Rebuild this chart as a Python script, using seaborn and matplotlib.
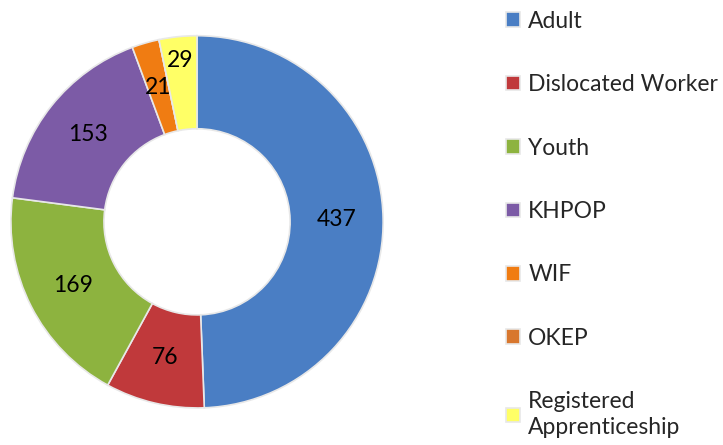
import matplotlib
matplotlib.use('Agg')
import matplotlib.pyplot as plt
import seaborn as sns

programs = ['Adult', 'Dislocated Worker', 'Youth', 'KHPOP', 'WIF', 'OKEP',
            'Registered\nApprenticeship']
counts = [437, 76, 169, 153, 21, 0, 29]
colors = ['#4A7EC4', '#C0393B', '#8DB33F', '#7C5BA6', '#F07C12', '#D8772E', '#FFFF66']

sns.set_theme(style='white')
plt.rcParams['font.family'] = ['Lato', 'DejaVu Sans']

total = sum(counts)

fig = plt.figure(figsize=(7.23, 4.45), dpi=100)
ax = fig.add_axes([0.0125, 0.079, 0.52, 0.845])

wedges, _, autotexts = ax.pie(
    counts, colors=sns.color_palette(colors), startangle=90, counterclock=False,
    autopct=lambda p: f'{round(p * total / 100):.0f}' if p > 0 else '',
    pctdistance=0.75, radius=1,
    wedgeprops=dict(width=0.5, edgecolor='#E8E8E8', linewidth=1.2),
    textprops=dict(fontsize=16.5, color='black'))
ax.set_aspect('equal')
ax.set_xlim(-1.01, 1.01)
ax.set_ylim(-1.01, 1.01)

# nudge the small last label outward so it does not collide with its neighbour
x, y = autotexts[-1].get_position()
autotexts[-1].set_position((x * 1.16, y * 1.16))

leg = fig.legend(wedges, programs, loc='upper left',
                 bbox_to_anchor=(0.672, 1.022), frameon=False,
                 fontsize=16.5, labelspacing=1.85, handlelength=0.6,
                 handleheight=0.6, handletextpad=0.35)
for t in leg.get_texts():
    t.set_linespacing(1.3)

fig.savefig('out.png', dpi=100)
